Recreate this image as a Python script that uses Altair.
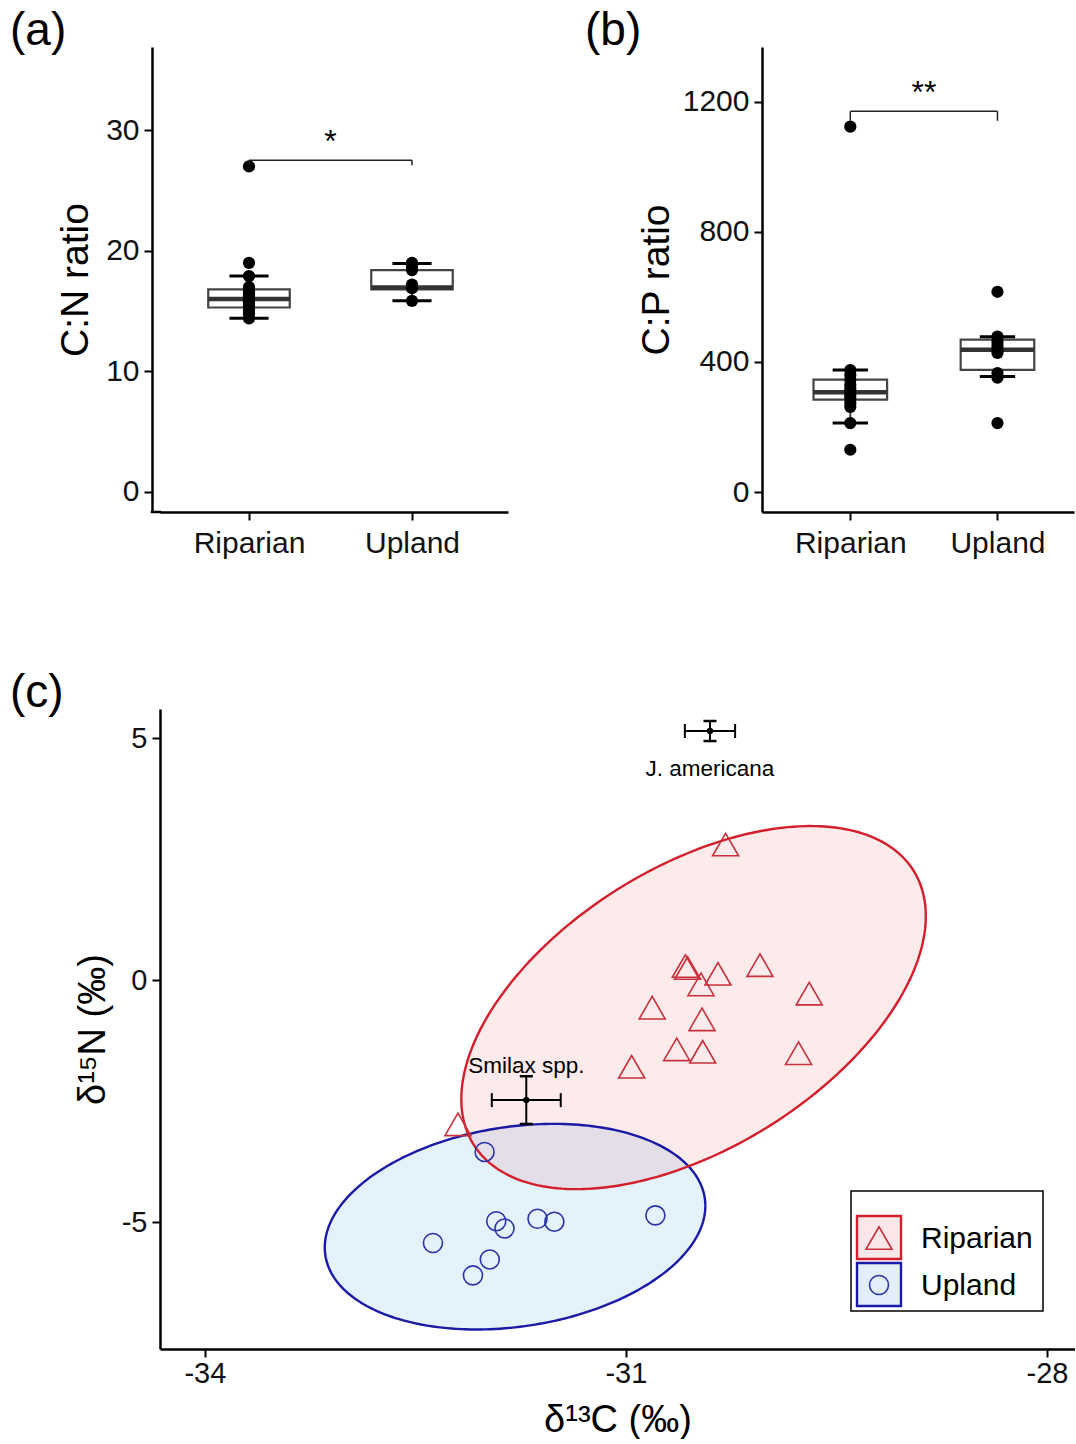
import numpy as np
import pandas as pd
import altair as alt

FONT = "Liberation Sans"

# ---------------- data ----------------
groups = ["Riparian", "Upland"]
group_pos = [1, 2]

# (a) C:N ratio
cn_riparian = [27.0, 19.0, 17.9, 17.0, 16.7, 16.5, 16.3, 16.1, 16.0, 15.8, 15.6, 15.4, 15.1, 14.8, 14.4]
cn_upland = [19.0, 18.7, 18.4, 17.2, 17.0, 16.9, 15.85]
cn_lo = [14.4, 15.85]
cn_q1 = [15.3, 16.8]
cn_med = [16.0, 16.96]
cn_q3 = [16.8, 18.4]
cn_hi = [17.9, 18.95]

# (b) C:P ratio
cp_riparian = [1124, 375, 360, 345, 330, 318, 306, 296, 286, 274, 262, 212, 130]
cp_upland = [616, 478, 462, 450, 438, 428, 366, 352, 212]
cp_lo = [212, 355]
cp_q1 = [284, 376]
cp_med = [307, 438]
cp_q3 = [346, 469]
cp_hi = [375, 478]

# (c) isotopes
rip_d13c = [-30.29, -30.577, -30.56, -30.344, -30.465, -30.045, -29.694, -30.813,
            -30.458, -30.638, -30.453, -29.77, -30.959, -32.197]
rip_d15n = [2.80, 0.29, 0.25, 0.13, -0.09, 0.31, -0.28, -0.57,
            -0.81, -1.43, -1.48, -1.51, -1.79, -2.98]
upl_d13c = [-32.007, -32.375, -31.924, -31.865, -31.97, -32.09, -31.63, -31.51, -30.79]
upl_d15n = [-3.55, -5.43, -4.98, -5.13, -5.77, -6.10, -4.93, -4.99, -4.86]

# ellipse parameters: centre, x half-extent,
# y offset at the x-extreme, y half-extent
ell_group = ["Riparian", "Upland"]
ell_cx = [-30.518, -31.790]
ell_cy = [-0.568, -5.093]
ell_sx = [1.655, 1.356]
ell_dy = [1.89, 0.43]
ell_sy = [3.75, 2.124]

# reference species (mean ± error)
ref_names = ["J. americana", "Smilax spp."]
ref_x = [-30.401, -31.710]
ref_y = [5.145, -2.479]
ref_xerr = [0.179, 0.2456]
ref_yerr = [0.207, 0.493]
ref_label_dy = [38, -34]

RED = "#d21f2b"
BLUE = "#1a1aa6"
PT_RED = "#c8313c"
PT_BLUE = "#2a33a8"

LABEL_FS = 30
PANEL_FS = 46


def box_panel(label, pts_rip, pts_upl, lo, q1, med, q3, hi, xdom, ydom, yticks,
              width, height, ytitle, br_y, br_drop, star, star_y, label_dx, title_pad,
              yoffset):
    xs = alt.Scale(domain=xdom, nice=False, zero=False)
    ys = alt.Scale(domain=ydom, nice=False, zero=False)
    label_expr = " : ".join(
        [f"datum.value == {p} ? '{g}'" for p, g in zip(group_pos, groups)]) + " : ''"
    xaxis = alt.Axis(values=group_pos, labelExpr=label_expr, title=None,
                     labelFontSize=LABEL_FS, labelPadding=8)
    yaxis = alt.Axis(values=yticks, title=ytitle, labelFontSize=LABEL_FS, titleFontSize=39,
                     labelPadding=5, titlePadding=title_pad, labelExpr="'' + datum.value",
                     offset=yoffset)

    def X(f):
        return alt.X(f, type="quantitative", scale=xs, axis=xaxis)

    def Y(f):
        return alt.Y(f, type="quantitative", scale=ys, axis=yaxis)

    box = pd.DataFrame({"pos": group_pos, "lo": lo, "q1": q1, "med": med, "q3": q3, "hi": hi})
    box["left"] = box["pos"] - 0.25
    box["right"] = box["pos"] + 0.25
    box["cl"] = box["pos"] - 0.12
    box["cr"] = box["pos"] + 0.12

    pts = pd.DataFrame({
        "pos": [group_pos[0]] * len(pts_rip) + [group_pos[1]] * len(pts_upl),
        "v": pts_rip + pts_upl,
    })

    base = alt.Chart(box)
    whisk = base.mark_rule(color="#444444", strokeWidth=2).encode(x=X("pos"), y=Y("lo"), y2="hi")
    rect = base.mark_rect(fill="white", stroke="#444444", strokeWidth=2.2).encode(
        x=X("left"), x2="right", y=Y("q1"), y2="q3")
    median = base.mark_rule(color="#333333", strokeWidth=4.5).encode(
        x=X("left"), x2="right", y=Y("med"))
    cap_lo = base.mark_rule(color="black", strokeWidth=3).encode(x=X("cl"), x2="cr", y=Y("lo"))
    cap_hi = base.mark_rule(color="black", strokeWidth=3).encode(x=X("cl"), x2="cr", y=Y("hi"))
    points = alt.Chart(pts).mark_circle(size=150, color="black", opacity=1).encode(
        x=X("pos"), y=Y("v"))

    br = pd.DataFrame({"x1": [group_pos[0]], "x2": [group_pos[1]], "y": [br_y],
                       "yd": [br_y - br_drop], "xm": [(group_pos[0] + group_pos[1]) / 2],
                       "ys": [star_y], "s": [star]})
    bc = alt.Chart(br)
    br_h = bc.mark_rule(color="#222222", strokeWidth=1.5).encode(x=X("x1"), x2="x2", y=Y("y"))
    br_l = bc.mark_rule(color="#222222", strokeWidth=1.5).encode(x=X("x1"), y=Y("yd"), y2="y")
    br_r = bc.mark_rule(color="#222222", strokeWidth=1.5).encode(x=X("x2"), y=Y("yd"), y2="y")
    st = bc.mark_text(fontSize=32, font=FONT, color="black", baseline="alphabetic").encode(
        x=X("xm"), y=Y("ys"), text="s:N")

    lab = alt.Chart(pd.DataFrame({"t": [label]})).mark_text(
        fontSize=PANEL_FS, font=FONT, align="left", baseline="alphabetic", color="black").encode(
        x=alt.value(label_dx), y=alt.value(-2), text="t:N")

    layers = [whisk, rect, median, cap_lo, cap_hi, points, br_h, br_l, br_r, st, lab]
    if yoffset:
        # continue the x-axis line to the offset y-axis
        layers.append(alt.Chart(pd.DataFrame({"a": [0]})).mark_rule(
            color="black", strokeWidth=2.5, strokeCap="square").encode(
            x=alt.value(-yoffset), x2=alt.value(0), y=alt.value(height), y2=alt.value(height)))
    return alt.layer(*layers).properties(width=width, height=height)


panel_a = box_panel("(a)", cn_riparian, cn_upland, cn_lo, cn_q1, cn_med, cn_q3, cn_hi,
                    [0.454, 2.589], [-1.66, 36.9], [0, 10, 20, 30], 348, 465, "C:N ratio",
                    27.5, 0.4, "*", 28.2, -150, 10, 8)
panel_b = box_panel("(b)", cp_riparian, cp_upland, cp_lo, cp_q1, cp_med, cp_q3, cp_hi,
                    [0.4, 2.52], [-61.5, 1369], [0, 400, 800, 1200], 312, 465, "C:P ratio",
                    1171, 29, "**", 1198, -177, 6, 0)

# ---------------- panel (c) ----------------
xs_c = alt.Scale(domain=[-34.32, -27.8], nice=False, zero=False)
ys_c = alt.Scale(domain=[-7.62, 5.6], nice=False, zero=False)
xaxis_c = alt.Axis(values=[-34, -31, -28], labelExpr="'' + datum.value",
                   title="δ¹³C (‰)", labelFontSize=29, titleFontSize=38,
                   labelPadding=2, titlePadding=13)
yaxis_c = alt.Axis(values=[-5, 0, 5], labelExpr="'' + datum.value",
                   title="δ¹⁵N (‰)", labelFontSize=29, titleFontSize=38,
                   labelPadding=5, titlePadding=9)


def XC(f):
    return alt.X(f, type="quantitative", scale=xs_c, axis=xaxis_c)


def YC(f):
    return alt.Y(f, type="quantitative", scale=ys_c, axis=yaxis_c)


color_scale = alt.Scale(domain=groups, range=[PT_RED, PT_BLUE])
shape_scale = alt.Scale(domain=groups, range=["triangle-up", "circle"])

outline_rows = []
area_rows = []
for g, cx, cy, sx, dy, sy in zip(ell_group, ell_cx, ell_cy, ell_sx, ell_dy, ell_sy):
    l22 = np.sqrt(sy ** 2 - dy ** 2)
    for i, t in enumerate(np.linspace(0, 2 * np.pi, 241)):
        outline_rows.append({"g": g, "i": i, "x": cx + sx * np.cos(t),
                             "y": cy + dy * np.cos(t) + l22 * np.sin(t)})
    for t in np.linspace(0, np.pi, 181):
        area_rows.append({"g": g, "x": cx + sx * np.cos(t),
                          "yu": cy + dy * np.cos(t) + l22 * np.sin(t),
                          "yl": cy + dy * np.cos(t) - l22 * np.sin(t)})
outline = pd.DataFrame(outline_rows)
areas = pd.DataFrame(area_rows)

fills = {"Riparian": ("#e8303a", 0.10), "Upland": ("#3aa2e4", 0.14)}
strokes = {"Riparian": RED, "Upland": BLUE}

area_layers = []
for g in ["Upland", "Riparian"]:
    area_layers.append(
        alt.Chart(areas[areas.g == g]).mark_area(color=fills[g][0], opacity=fills[g][1]).encode(
            x=XC("x"), y=YC("yu"), y2="yl"))
line_layers = []
for g in ["Upland", "Riparian"]:
    line_layers.append(
        alt.Chart(outline[outline.g == g]).mark_line(color=strokes[g], strokeWidth=2.4).encode(
            x=XC("x"), y=YC("y"), order="i:Q"))

iso = pd.DataFrame({
    "x": rip_d13c + upl_d13c,
    "y": rip_d15n + upl_d15n,
    "g": ["Riparian"] * len(rip_d13c) + ["Upland"] * len(upl_d13c),
    "sz": [676] * len(rip_d13c) + [361] * len(upl_d13c),
})
iso_pts = alt.Chart(iso).mark_point(filled=False, strokeWidth=1.6, opacity=1).encode(
    x=XC("x"), y=YC("y"),
    color=alt.Color("g:N", scale=color_scale, legend=None),
    shape=alt.Shape("g:N", scale=shape_scale, legend=None),
    size=alt.Size("sz:Q", scale=None, legend=None))

ref = pd.DataFrame({"name": ref_names, "x": ref_x, "y": ref_y, "dy": ref_label_dy})
ref["xlo"] = ref.x - pd.Series(ref_xerr)
ref["xhi"] = ref.x + pd.Series(ref_xerr)
ref["ylo"] = ref.y - pd.Series(ref_yerr)
ref["yhi"] = ref.y + pd.Series(ref_yerr)
rc = alt.Chart(ref)
eb_h = rc.mark_rule(color="black", strokeWidth=2).encode(x=XC("xlo"), x2="xhi", y=YC("y"))
eb_v = rc.mark_rule(color="black", strokeWidth=2).encode(x=XC("x"), y=YC("ylo"), y2="yhi")
cap_l = rc.mark_rule(color="black", strokeWidth=2, yOffset=-7, y2Offset=7).encode(
    x=XC("xlo"), y=YC("y"), y2="y")
cap_r = rc.mark_rule(color="black", strokeWidth=2, yOffset=-7, y2Offset=7).encode(
    x=XC("xhi"), y=YC("y"), y2="y")
cap_b = rc.mark_rule(color="black", strokeWidth=2.5, xOffset=-6.5, x2Offset=6.5).encode(
    x=XC("x"), x2="x", y=YC("ylo"))
cap_t = rc.mark_rule(color="black", strokeWidth=2.5, xOffset=-6.5, x2Offset=6.5).encode(
    x=XC("x"), x2="x", y=YC("yhi"))
ref_dot = rc.mark_circle(size=40, color="black", opacity=1).encode(x=XC("x"), y=YC("y"))
ref_text_top = alt.Chart(ref[ref.dy > 0]).mark_text(
    fontSize=22.5, font=FONT, color="black", dy=ref_label_dy[0]).encode(
    x=XC("x"), y=YC("y"), text="name:N")
ref_text_bot = alt.Chart(ref[ref.dy < 0]).mark_text(
    fontSize=22.5, font=FONT, color="black", dy=ref_label_dy[1]).encode(
    x=XC("x"), y=YC("y"), text="name:N")

# legend (drawn inside the panel)
leg_layers = [
    alt.Chart(pd.DataFrame({"a": [0]})).mark_rect(fill="white", stroke="black", strokeWidth=1.5).encode(
        x=alt.value(691), x2=alt.value(883), y=alt.value(482), y2=alt.value(602))
]
key_fill = {"Riparian": "#fbe6ea", "Upland": "#e2effa"}
for i, g in enumerate(groups):
    top = 507 + i * 47
    leg_layers.append(
        alt.Chart(pd.DataFrame({"a": [0]})).mark_rect(
            fill=key_fill[g], stroke=strokes[g], strokeWidth=2.4).encode(
            x=alt.value(697), x2=alt.value(741), y=alt.value(top), y2=alt.value(top + 43)))
    leg_layers.append(
        alt.Chart(pd.DataFrame({"a": [0]})).mark_point(
            shape="triangle-up" if g == "Riparian" else "circle", filled=False,
            color=PT_RED if g == "Riparian" else PT_BLUE, strokeWidth=1.6,
            size=676 if g == "Riparian" else 361, opacity=1).encode(
            x=alt.value(719), y=alt.value(top + 22)))
    leg_layers.append(
        alt.Chart(pd.DataFrame({"t": [g]})).mark_text(
            fontSize=LABEL_FS, font=FONT, align="left", baseline="middle", color="black").encode(
            x=alt.value(761), y=alt.value(top + 23), text="t:N"))

lab_c = alt.Chart(pd.DataFrame({"t": ["(c)"]})).mark_text(
    fontSize=PANEL_FS, font=FONT, align="left", baseline="alphabetic", color="black").encode(
    x=alt.value(-150), y=alt.value(-2), text="t:N")

panel_c = alt.layer(*area_layers, *line_layers, iso_pts, eb_h, eb_v, cap_l, cap_r, cap_b, cap_t,
                    ref_dot, ref_text_top, ref_text_bot, *leg_layers, lab_c
                    ).properties(width=915, height=640)

top_row = alt.hconcat(panel_a, panel_b, spacing=77)
chart = alt.vconcat(top_row, panel_c, spacing=112).properties(
    padding={"left": 10, "top": 8, "right": 0, "bottom": 0}, background="white"
).configure_view(stroke=None).configure_axis(
    labelFont=FONT, titleFont=FONT, labelColor="#111111", titleColor="black",
    titleFontWeight="normal", domainColor="black", domainWidth=2.5, tickColor="black",
    tickWidth=2, tickSize=8, grid=False
)

chart.save("out.html", embed_options={"renderer": "svg", "actions": False})
